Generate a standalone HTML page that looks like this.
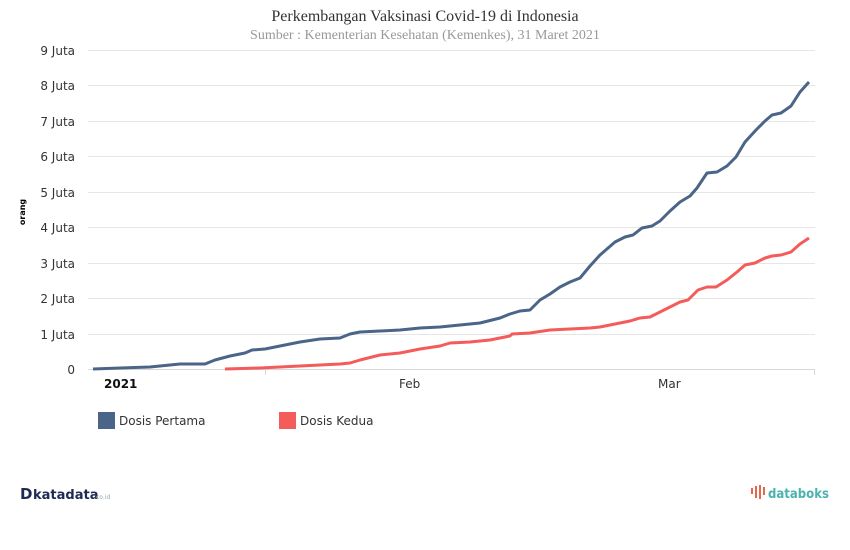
<!DOCTYPE html>
<html><head><meta charset="utf-8"><style>
body{margin:0;background:#fff;width:850px;height:545px;overflow:hidden}
</style></head><body>
<svg width="850" height="545" xmlns="http://www.w3.org/2000/svg" font-family="'DejaVu Sans', sans-serif">
<text x="425" y="21" text-anchor="middle" font-family="'Liberation Serif', serif" font-size="16" fill="#333">Perkembangan Vaksinasi Covid-19 di Indonesia</text>
<text x="425" y="39" text-anchor="middle" font-family="'Liberation Serif', serif" font-size="14" fill="#999">Sumber : Kementerian Kesehatan (Kemenkes), 31 Maret 2021</text>
<g stroke="#e6e6e6" stroke-width="1">
<line x1="88" x2="815" y1="50.5" y2="50.5"/><line x1="88" x2="815" y1="85.5" y2="85.5"/><line x1="88" x2="815" y1="121.5" y2="121.5"/><line x1="88" x2="815" y1="156.5" y2="156.5"/><line x1="88" x2="815" y1="192.5" y2="192.5"/><line x1="88" x2="815" y1="227.5" y2="227.5"/><line x1="88" x2="815" y1="263.5" y2="263.5"/><line x1="88" x2="815" y1="298.5" y2="298.5"/><line x1="88" x2="815" y1="334.5" y2="334.5"/>
</g>
<line x1="88" x2="815" y1="369.5" y2="369.5" stroke="#d8d8d8"/>
<line x1="265.5" x2="265.5" y1="369" y2="375" stroke="#d8d8d8"/>
<line x1="814.5" x2="814.5" y1="369" y2="375" stroke="#d8d8d8"/>
<g font-size="12" fill="#333" text-anchor="end">
<text x="75" y="55">9 Juta</text><text x="75" y="90">8 Juta</text><text x="75" y="126">7 Juta</text><text x="75" y="161">6 Juta</text><text x="75" y="197">5 Juta</text><text x="75" y="232">4 Juta</text><text x="75" y="268">3 Juta</text><text x="75" y="303">2 Juta</text><text x="75" y="339">1 Juta</text><text x="75" y="374">0</text>
</g>
<text transform="translate(25,212) rotate(-90)" text-anchor="middle" font-size="8" font-weight="bold" fill="#000">orang</text>
<text x="104" y="388" font-size="12" font-weight="bold" fill="#111">2021</text>
<text x="399" y="388" font-size="12" fill="#333">Feb</text>
<text x="658" y="388" font-size="12" fill="#333">Mar</text>
<polyline fill="none" stroke="#4a6587" stroke-width="3" stroke-linejoin="round" points="93,369 120,368 150,367 180,364 205,364 215,360 230,356 245,353 252,350 265,349 280,346 300,342 320,339 340,338 350,334 360,332 380,331 400,330 420,328 440,327 460,325 480,323 500,318 510,314 520,311 530,310 540,300 550,294 560,287 570,282 580,278 590,266 600,255 615,242 625,237 633,235 642,228 652,226 660,221 670,211 680,202 690,196 697,188 707,173 717,172 727,166 736,157 745,142 756,130 765,121 772,115 781,113 791,106 800,92 809,82"/>
<polyline fill="none" stroke="#f45b5b" stroke-width="3" stroke-linejoin="round" points="225,369 260,368 300,366 320,365 340,364 350,363 360,360 380,355 400,353 420,349 440,346 450,343 470,342 490,340 510,336 512,334 530,333 550,330 570,329 590,328 600,327 610,325 620,323 630,321 640,318 650,317 660,312 670,307 680,302 688,300 698,290 707,287 716,287 727,280 737,272 745,265 755,263 765,258 772,256 781,255 791,252 800,244 809,238"/>
<rect x="98" y="412" width="17" height="17" fill="#4a6587"/>
<text x="119" y="425" font-size="12" fill="#333">Dosis Pertama</text>
<rect x="279" y="412" width="17" height="17" fill="#f45b5b"/>
<text x="300" y="425" font-size="12" fill="#333">Dosis Kedua</text>
<text x="20" y="499" font-size="15" font-weight="bold" fill="#1d2b53">D</text>
<text x="33" y="499" font-size="13" font-weight="bold" fill="#1d2b53">katadata</text>
<text x="96" y="499" font-size="6" fill="#9aa">co.id</text>
<g fill="#e8664a"><rect x="751" y="488" width="2" height="6"/><rect x="755" y="486" width="2" height="12"/><rect x="759" y="485" width="2" height="14"/><rect x="763" y="487" width="2" height="8"/></g>
<text x="768" y="498" font-size="13" font-weight="bold" fill="#4bb3ad" textLength="61" lengthAdjust="spacingAndGlyphs">databoks</text>
</svg>
</body></html>
